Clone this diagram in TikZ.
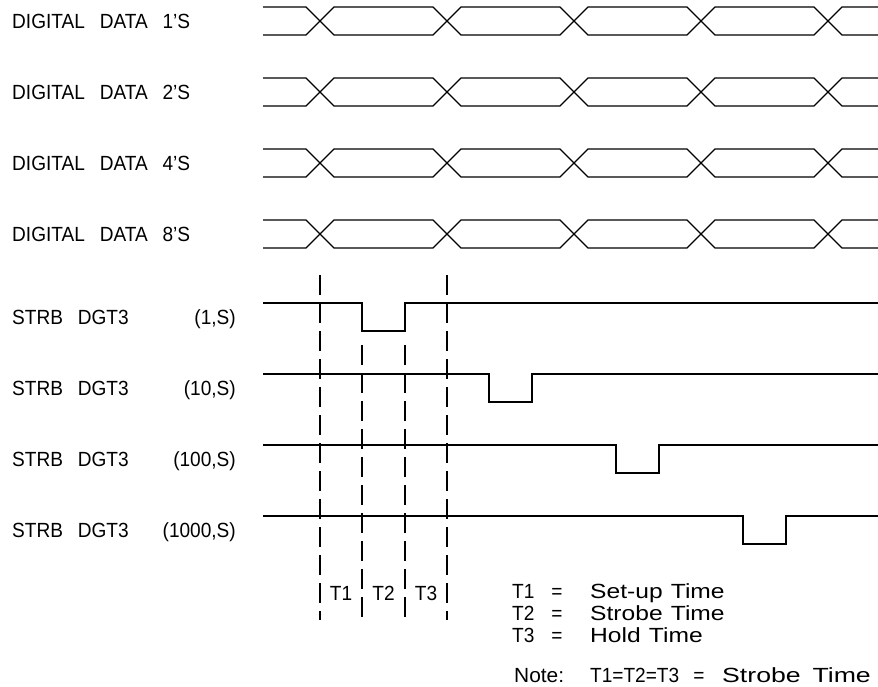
\documentclass[tikz,border=0pt]{standalone}
\usepackage{fontspec}
\setmainfont{Liberation Sans}[WordSpace=1.4, FakeStretch=0.93]
\newfontfamily\legfont{Liberation Sans}[WordSpace=1.2, FakeStretch=1.2]
\newfontfamily\notefont{Liberation Sans}[WordSpace=1.6, FakeStretch=1.3]
\newfontfamily\notelead{Liberation Sans}[FakeStretch=1.02]
\begin{document}
\begin{tikzpicture}[x=1pt,y=-1pt,
  sig/.style={line width=1.3pt, line join=miter},
  guide/.style={line width=1.3pt, dash pattern=on 20pt off 8pt},
  lbl/.style={inner sep=0pt, font=\fontsize{20.5}{20.5}\selectfont},
  leg/.style={inner sep=0pt, font=\fontsize{20.5}{20.5}\selectfont\legfont},
]
\fill[white] (0,0) rectangle (878,686);
\useasboundingbox (0,0) rectangle (878,686);

% data labels
\node[lbl, anchor=base west] (d1) at (12,28.3) {DIGITAL\ \ DATA\ \ 1'S};
\node[lbl, anchor=base west] (d2) at (12,99.3) {DIGITAL\ \ DATA\ \ 2'S};
\node[lbl, anchor=base west] (d4) at (12,170.3) {DIGITAL\ \ DATA\ \ 4'S};
\node[lbl, anchor=base west] (d8) at (12,241.3) {DIGITAL\ \ DATA\ \ 8'S};

% data waveforms
\foreach \yc in {21,92,163,234} {
  \draw[sig] (263,\yc-14) -- (306,\yc-14) -- (334,\yc+14) -- (433,\yc+14) -- (461,\yc-14)
    -- (560,\yc-14) -- (588,\yc+14) -- (687,\yc+14) -- (715,\yc-14) -- (814,\yc-14)
    -- (842,\yc+14) -- (878,\yc+14);
  \draw[sig] (263,\yc+14) -- (306,\yc+14) -- (334,\yc-14) -- (433,\yc-14) -- (461,\yc+14)
    -- (560,\yc+14) -- (588,\yc-14) -- (687,\yc-14) -- (715,\yc+14) -- (814,\yc+14)
    -- (842,\yc-14) -- (878,\yc-14);
}

% strobe labels
\node[lbl, anchor=base west] (s1) at (12,324.3) {STRB\ \ DGT3};
\node[lbl, anchor=base east] (s1n) at (236,324.3) {(1,S)};
\node[lbl, anchor=base west] (s2) at (12,395.3) {STRB\ \ DGT3};
\node[lbl, anchor=base east] (s2n) at (236,395.3) {(10,S)};
\node[lbl, anchor=base west] (s3) at (12,466.3) {STRB\ \ DGT3};
\node[lbl, anchor=base east] (s3n) at (236,466.3) {(100,S)};
\node[lbl, anchor=base west] (s4) at (12,537.3) {STRB\ \ DGT3};
\node[lbl, anchor=base east] (s4n) at (236,537.3) {(1000,S)};

% strobe waveforms
\foreach \k in {0,1,2,3} {
  \pgfmathsetmacro{\ys}{303+71*\k}
  \pgfmathsetmacro{\xf}{362+127*\k}
  \draw[sig] (263,\ys) -- (\xf,\ys) -- (\xf,\ys+28) -- (\xf+43,\ys+28) -- (\xf+43,\ys) -- (878,\ys);
}

% timing guides
\draw[guide] (320,275) -- (320,620);
\draw[guide] (447,275) -- (447,620);
\draw[guide] (362,345) -- (362,620);
\draw[guide] (405,345) -- (405,620);

\node[lbl, anchor=base] (t1) at (341,600.3) {T1};
\node[lbl, anchor=base] (t2) at (383.5,600.3) {T2};
\node[lbl, anchor=base] (t3) at (426,600.3) {T3};

% legend
\node[lbl, anchor=base west] (l1a) at (512,598.3) {T1};
\node[lbl, anchor=base] (l1b) at (557,598.3) {=};
\node[leg, anchor=base west] (l1c) at (590,598.3) {Set-up Time};
\node[lbl, anchor=base west] (l2a) at (512,620.3) {T2};
\node[lbl, anchor=base] (l2b) at (557,620.3) {=};
\node[leg, anchor=base west] (l2c) at (590,620.3) {Strobe Time};
\node[lbl, anchor=base west] (l3a) at (512,642.3) {T3};
\node[lbl, anchor=base] (l3b) at (557,642.3) {=};
\node[leg, anchor=base west] (l3c) at (590,642.3) {Hold Time};

\node[lbl, anchor=base west, font=\fontsize{20.5}{20.5}\selectfont\notelead] (n1) at (514,682.5) {Note:};
\node[lbl, anchor=base west] (n2) at (590,682.5) {T1=T2=T3};
\node[lbl, anchor=base] (n3) at (699,682.5) {=};
\node[lbl, anchor=base west, font=\fontsize{20.5}{20.5}\selectfont\notefont] (n4) at (722,682.5) {Strobe Time};
\end{tikzpicture}
\end{document}
